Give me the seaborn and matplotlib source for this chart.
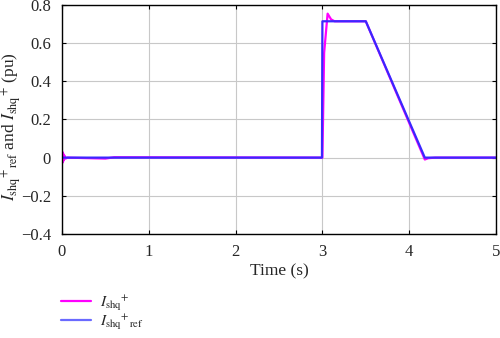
import numpy as np
import pandas as pd
import matplotlib
matplotlib.use("Agg")
import matplotlib.pyplot as plt
import seaborn as sns
from matplotlib.lines import Line2D

# Reference current I_shq+ ref (knots)
t_ref = [0.0, 2.995, 3.0, 3.5, 4.18, 5.0]
i_ref = [0.0, 0.0, 0.715, 0.715, 0.0, 0.0]

t_meas = [0.0, 0.005, 0.01, 0.015, 0.02, 0.03, 0.04, 0.06, 0.5, 0.6, 3.0, 3.02, 3.06, 3.1, 3.14, 3.5, 4.18, 4.22, 4.3, 5.0]
i_meas = [0.0, 0.03, -0.025, 0.02, -0.015, 0.01, -0.005, 0.0, -0.005, 0.002, 0.0, 0.55, 0.755, 0.725, 0.715, 0.715, -0.01, -0.003, 0.0, 0.0]

xticks = [0, 1, 2, 3, 4, 5]
yticks = [-0.4, -0.2, 0, 0.2, 0.4, 0.6, 0.8]
ytick_labels = ["\u22120.4", "\u22120.2", "0", "0.2", "0.4", "0.6", "0.8"]

lab_meas = r"$I_{\mathrm{shq}}{}^{+}$"
lab_ref = r"$I_{\mathrm{shq}}{}^{+}{}_{\mathrm{ref}}$"

df = pd.concat([
    pd.DataFrame({"t": t_meas, "i": i_meas, "s": lab_meas}),
    pd.DataFrame({"t": t_ref, "i": i_ref, "s": lab_ref}),
])

sns.set_style("white")
plt.rcParams["font.family"] = ["Liberation Serif", "DejaVu Serif"]
plt.rcParams["mathtext.fontset"] = "stix"

fig = plt.figure(figsize=(5.0, 3.38), dpi=100)
ax = fig.add_axes([0.124, 0.308, 0.868, 0.677])

palette = {lab_meas: "#ff00ff", lab_ref: "#3a28ff"}
sns.lineplot(data=df, x="t", y="i", hue="s", palette=palette, ax=ax,
             linewidth=1.6, legend=False, sort=False, estimator=None)

ax.set_xlim(0, 5)
ax.set_ylim(-0.4, 0.8)
ax.set_xticks(xticks)
ax.set_xticklabels([str(x) for x in xticks])
ax.set_yticks(yticks)
ax.set_yticklabels(ytick_labels)
ax.grid(True, color="#c8c8c8", linewidth=0.8)
ax.set_axisbelow(True)
for s in ax.spines.values():
    s.set_color("black")
    s.set_linewidth(1.0)
ax.tick_params(labelsize=12, length=3, direction="in", color="black",
               top=True, right=True, bottom=True, left=True)
ax.tick_params(axis="y", pad=8)
ax.tick_params(axis="x", pad=7)
ax.set_xlabel("Time (s)", fontsize=12.5, labelpad=3)
ax.set_ylabel(r"$I_{\mathrm{shq}}{}^{+}{}_{\mathrm{ref}}$ and $I_{\mathrm{shq}}{}^{+}$ (pu)", fontsize=12.5)
ax.yaxis.set_label_coords(-0.087, 0.47)

handles = [Line2D([], [], color="#ff00ff", lw=1.6), Line2D([], [], color="#6a6aff", lw=1.6)]
fig.legend(handles, [lab_meas, lab_ref], loc="upper left", bbox_to_anchor=(0.11, 0.15),
           frameon=False, fontsize=11, handlelength=1.95, handletextpad=0.6,
           labelspacing=0.0, borderaxespad=0)

fig.savefig("out.png", dpi=100)
